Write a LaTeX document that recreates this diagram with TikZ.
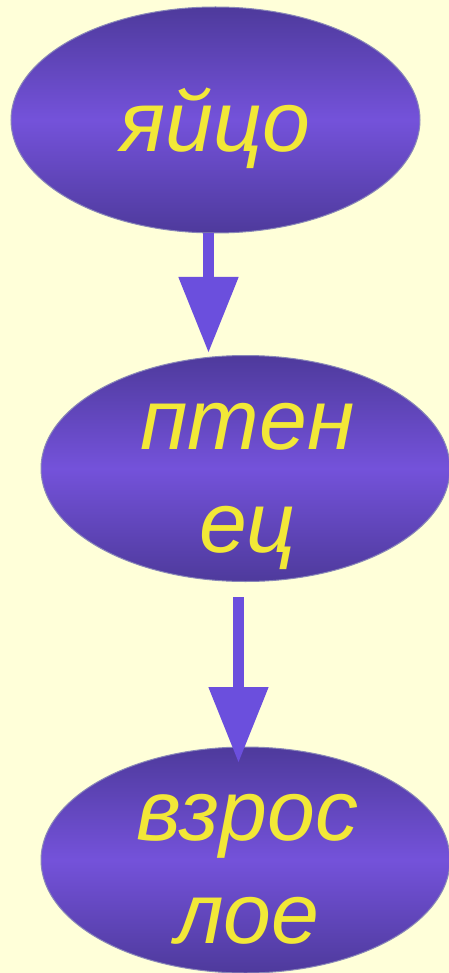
\documentclass[tikz,border=0pt]{standalone}
\usepackage{fontspec}
\setmainfont{Liberation Sans}
\usetikzlibrary{shapes.geometric,arrows.meta}
\definecolor{bg}{HTML}{FFFFD9}
\definecolor{edgec}{HTML}{4E3A9C}
\definecolor{midc}{HTML}{7452DA}
\definecolor{arrc}{HTML}{6B4FDD}
\definecolor{txtc}{HTML}{F2E837}
\definecolor{rimc}{HTML}{8A88B8}
\tikzset{
  stage/.style={ellipse, draw=rimc, line width=1pt, top color=edgec, bottom color=edgec, middle color=midc,
    minimum width=409pt, minimum height=226pt, inner sep=0pt},
  word/.style={anchor=base, inner sep=0pt, text=txtc, font=\fontsize{86}{103}\selectfont\itshape},
  conn/.style={draw=arrc, line width=11.5pt, -{Triangle[length=76pt,width=57pt]}, arrc}
}
\begin{document}
\begin{tikzpicture}[x=1pt,y=-1pt]
\fill[bg] (0,0) rectangle (449,973);
\useasboundingbox (0,0) rectangle (449,973);
\node[stage] (e1) at (215.5,120) {};
\node[stage] (e2) at (245.5,468.5) {};
\node[stage] (e3) at (245.5,860) {};
\node[word] (t1) at (215,152) {яйцо};
\node[word] (t2a) at (247.5,449) {птен};
\node[word] (t2b) at (247.5,552) {ец};
\node[word] (t3a) at (247.5,840) {взрос};
\node[word] (t3b) at (247.5,943) {лое};
\coordinate (a1s) at (208.5,233);
\coordinate (a1e) at (208.5,353);
\coordinate (a2s) at (238.5,597);
\coordinate (a2e) at (238.5,763);
\draw[conn] (a1s) -- (a1e);
\draw[conn] (a2s) -- (a2e);
\end{tikzpicture}
\end{document}
